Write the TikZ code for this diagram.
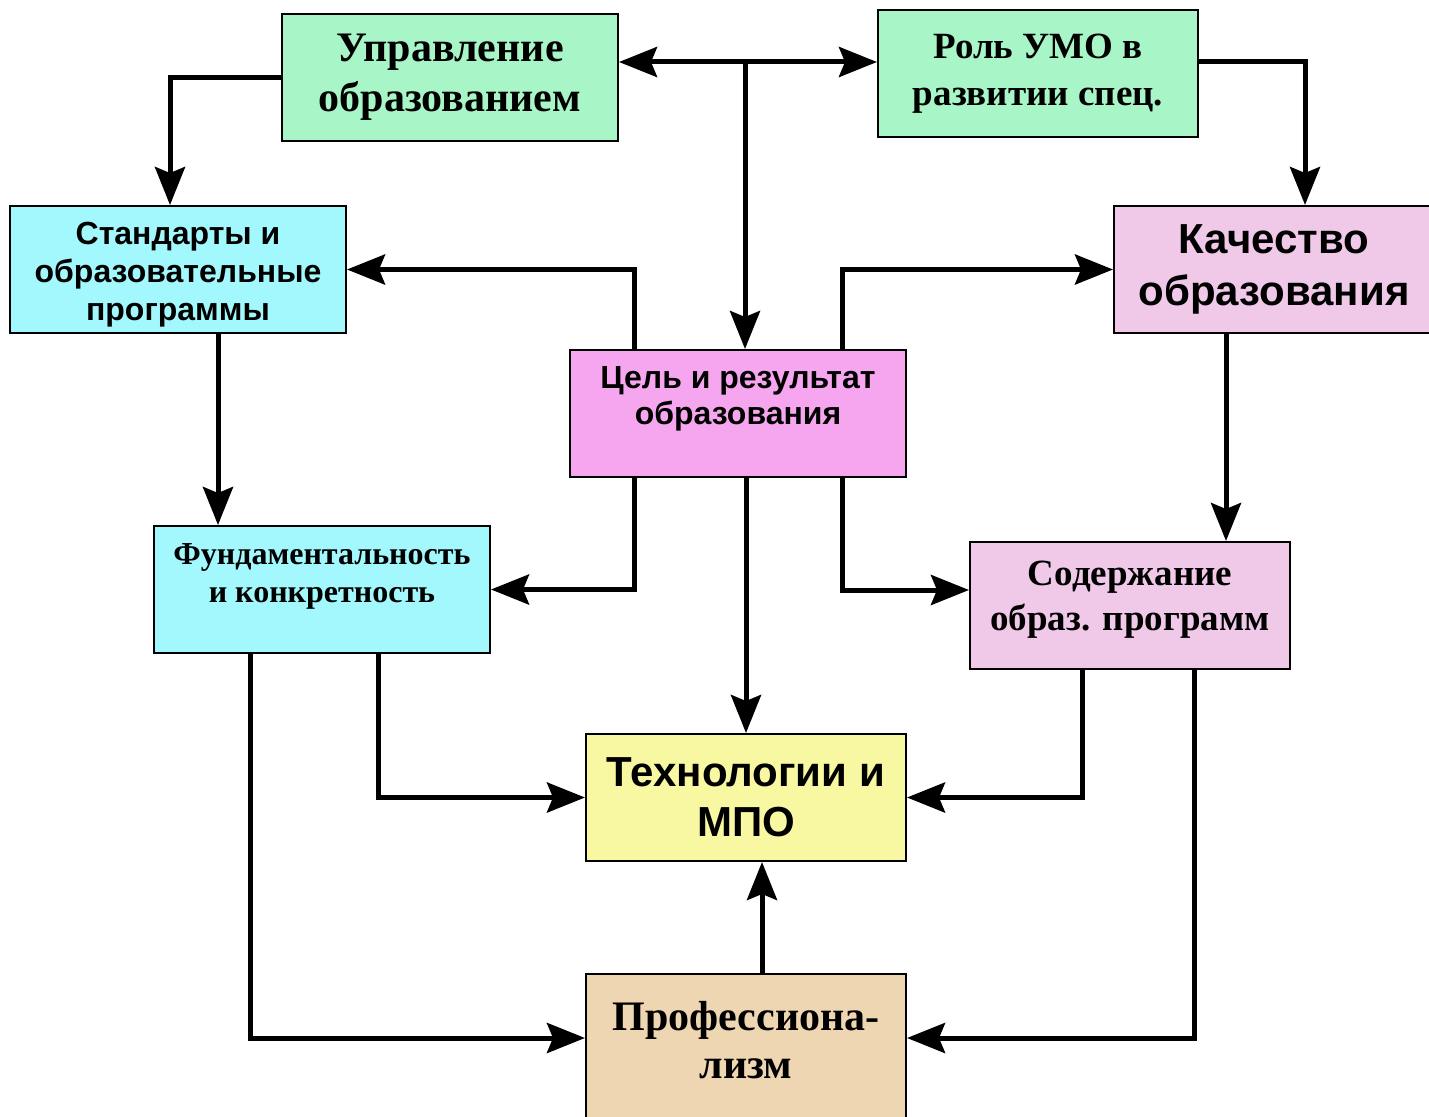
\documentclass[tikz,border=0pt]{standalone}
\usepackage{fontspec}
\setmainfont{Liberation Serif}
\setsansfont{Liberation Sans}
\usetikzlibrary{arrows.meta, positioning}

\definecolor{boxgreen}{HTML}{A8F6C8}
\definecolor{boxcyan}{HTML}{A2F8FC}
\definecolor{boxlilac}{HTML}{F0C8E8}
\definecolor{boxpink}{HTML}{F6A6EE}
\definecolor{boxyellow}{HTML}{F8F8A2}
\definecolor{boxtan}{HTML}{EED6B2}

\begin{document}
\begin{tikzpicture}[
  x=1pt, y=-1pt,
  box/.style={
    draw, rectangle, line width=2pt,
    minimum width=336pt, minimum height=127pt,
    inner sep=0pt, align=center
  },
  serifbox/.style 2 args={box, font=\rmfamily\bfseries\fontsize{#1}{#2}\selectfont},
  sansbox/.style 2 args={box, font=\sffamily\bfseries\fontsize{#1}{#2}\selectfont},
  arrow/.style={-{Stealth[length=38pt, width=30pt, inset=6pt]}, line width=5pt},
  dblarrow/.style={{Stealth[length=38pt, width=30pt, inset=6pt]}-{Stealth[length=38pt, width=30pt, inset=6pt]}, line width=5pt}
]
\useasboundingbox (0,0) rectangle (1429,1116);

% --- top row ---
\node[serifbox={42}{50}, fill=boxgreen] (upr) at (450, 77.5)
  {Управление\\образованием};
\node[serifbox={37}{47}, fill=boxgreen, minimum width=320pt] (rol) at (1038, 73.5)
  {Роль УМО в\\развитии спец.};

% --- second row ---
\node[sansbox={32}{38}, fill=boxcyan] (std) at (178, 269.5)
  {\mbox{}\\[-5pt]Стандарты и\\образовательные\\программы};
\node[sansbox={42}{52}, fill=boxlilac, minimum width=320pt] (kach) at (1274, 269.5)
  {Качество\\образования};

% --- centre ---
\node[sansbox={32}{36}, fill=boxpink] (cel) at (738, 413.5)
  {Цель и результат\\образования\\\mbox{}};

% --- third row ---
\node[serifbox={32}{38}, fill=boxcyan] (fund) at (322, 589.5)
  {Фундаментальность\\и конкретность\\[-6pt]\mbox{}};
\node[serifbox={37}{45}, fill=boxlilac, minimum width=320pt] (sod) at (1130, 605.5)
  {Содержание\\образ. программ\\[-26pt]\mbox{}};

% --- bottom ---
\node[sansbox={42}{50}, fill=boxyellow, minimum width=320pt] (tech) at (746, 797.5)
  {Технологии и\\МПО};
\node[serifbox={42}{48}, fill=boxtan, minimum width=320pt, minimum height=180pt] (prof) at (746, 1064)
  {Профессиона-\\лизм\\\mbox{}};

\coordinate (jtop) at (745, 62);

% --- connectors from the top ---
\draw[arrow] (upr.west) -| ([xshift=-8pt]std.north);
\draw[dblarrow] (upr.east |- jtop) -- (rol.west |- jtop);
\draw[arrow] (jtop) -- (jtop |- cel.north);
\draw[arrow] (rol.east |- jtop) -| ([xshift=31pt]kach.north);

% --- goal box feeds both sides ---
\draw[arrow] ([xshift=-104pt]cel.north) |- (std.east);
\draw[arrow] ([xshift=104pt]cel.north) |- (kach.west);
\draw[arrow] ([xshift=-104pt]cel.south) |- (fund.east);
\draw[arrow] ([xshift=104pt]cel.south) |- ([yshift=15.5pt]sod.west);
\draw[arrow] (tech.north |- cel.south) -- (tech.north);

% --- side columns ---
\draw[arrow] ([xshift=40pt]std.south) -- ([xshift=40pt]std.south |- fund.north);
\draw[arrow] ([xshift=-48pt]kach.south) -- ([xshift=-48pt]kach.south |- sod.north);

% --- into technologies and professionalism ---
\draw[arrow] ([xshift=56pt]fund.south) |- (tech.west);
\draw[arrow] ([xshift=-48pt]sod.south) |- (tech.east);
\draw[arrow] ([xshift=-72pt]fund.south) |- ([yshift=26pt]prof.west);
\draw[arrow] ([xshift=64pt]sod.south) |- ([yshift=26pt]prof.east);
\draw[arrow] ([xshift=16pt]prof.north) -- ([xshift=16pt]prof.north |- tech.south);

\end{tikzpicture}
\end{document}
